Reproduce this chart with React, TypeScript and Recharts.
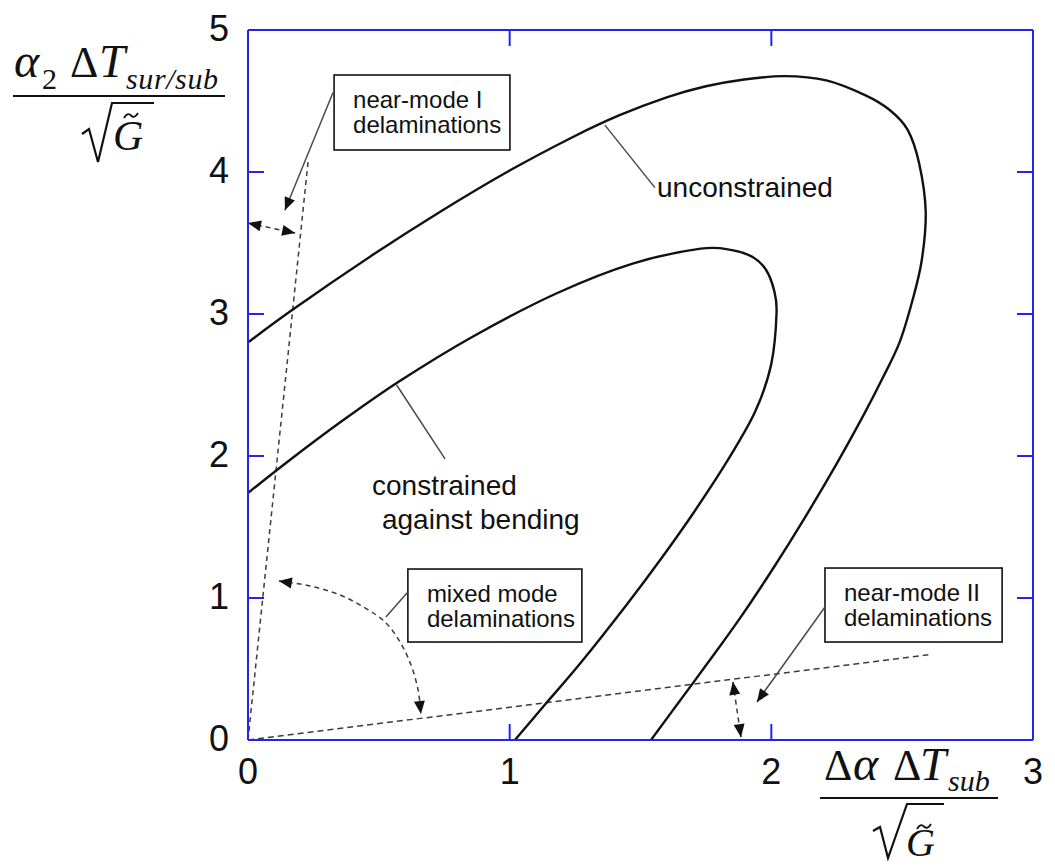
import React from 'react';
import { LineChart, Line, XAxis, YAxis, ReferenceArea, ReferenceLine, ReferenceDot } from 'recharts';

const FRAME = '#2424ee';
const INK = '#111111';
const DASH = '#3c3c3c';
const LEADER = '#4a4a4a';
const SANS = '"Liberation Sans", Arial, sans-serif';
const SERIF = '"Liberation Serif", "Times New Roman", serif';

type Pt = { x: number; y: number };

const xTicks = [0, 1, 2, 3];
const yTicks = [0, 1, 2, 3, 4, 5];

// Delamination boundary, film free to bend
const unconstrained: Pt[] = [
  { x: 0, y: 2.8 }, { x: 0.17, y: 3.03 }, { x: 0.48, y: 3.42 }, { x: 0.73, y: 3.715 },
  { x: 0.99, y: 4.0 }, { x: 1.24, y: 4.245 }, { x: 1.42, y: 4.4 }, { x: 1.6, y: 4.526 },
  { x: 1.75, y: 4.604 }, { x: 1.89, y: 4.65 }, { x: 2.05, y: 4.675 }, { x: 2.21, y: 4.645 },
  { x: 2.36, y: 4.54 }, { x: 2.45, y: 4.44 }, { x: 2.52, y: 4.3 }, { x: 2.565, y: 4.06 },
  { x: 2.59, y: 3.72 }, { x: 2.575, y: 3.38 }, { x: 2.54, y: 3.1 }, { x: 2.49, y: 2.8 },
  { x: 2.423, y: 2.54 }, { x: 2.356, y: 2.3 }, { x: 2.251, y: 1.95 }, { x: 2.123, y: 1.55 },
  { x: 2.011, y: 1.22 }, { x: 1.881, y: 0.86 }, { x: 1.756, y: 0.54 }, { x: 1.628, y: 0.22 },
  { x: 1.54, y: 0 },
];

// Delamination boundary, film constrained against bending
const constrained: Pt[] = [
  { x: 0, y: 1.74 }, { x: 0.16, y: 1.972 }, { x: 0.35, y: 2.234 }, { x: 0.58, y: 2.528 },
  { x: 0.86, y: 2.842 }, { x: 1.18, y: 3.146 }, { x: 1.47, y: 3.355 }, { x: 1.73, y: 3.46 },
  { x: 1.85, y: 3.45 }, { x: 1.93, y: 3.4 }, { x: 1.98, y: 3.31 }, { x: 2.01, y: 3.17 },
  { x: 2.02, y: 3.01 }, { x: 2.0, y: 2.65 }, { x: 1.94, y: 2.32 }, { x: 1.84, y: 1.99 },
  { x: 1.71, y: 1.62 }, { x: 1.58, y: 1.28 }, { x: 1.45, y: 0.96 }, { x: 1.27, y: 0.54 },
  { x: 1.14, y: 0.26 }, { x: 1.02, y: 0 },
];

// Dashed limits of the mode-mixity regions
const modeIBoundary: Pt[] = [{ x: 0, y: 0 }, { x: 0.23, y: 4.08 }];
const modeIIBoundary: Pt[] = [{ x: 0, y: 0 }, { x: 2.6, y: 0.6 }];
const mixedArc: Pt[] = [
  { x: 0.118, y: 1.12 }, { x: 0.237, y: 1.085 }, { x: 0.352, y: 1.021 }, { x: 0.447, y: 0.93 },
  { x: 0.524, y: 0.831 }, { x: 0.581, y: 0.69 }, { x: 0.623, y: 0.528 }, { x: 0.65, y: 0.352 },
  { x: 0.661, y: 0.183 },
];

// Boxed callouts
type Box = { x1: number; x2: number; y1: number; y2: number; lines: string[] };
const boxes: Box[] = [
  { x1: 0.329, x2: 1.001, y1: 4.155, y2: 4.683, lines: ['near-mode I', 'delaminations'] },
  { x1: 0.611, x2: 1.276, y1: 0.69, y2: 1.204, lines: ['mixed mode', 'delaminations'] },
  { x1: 2.205, x2: 2.882, y1: 0.69, y2: 1.211, lines: ['near-mode II', 'delaminations'] },
];

// Arrows and leader lines: from -> to, with the ends that carry heads
type Arrow = { from: Pt; to: Pt; dashed: boolean; start: boolean; end: boolean; line: boolean };
const arrows: Arrow[] = [
  { from: { x: 0.325, y: 4.56 }, to: { x: 0.141, y: 3.73 }, dashed: false, start: false, end: true, line: true },
  { from: { x: 0, y: 3.64 }, to: { x: 0.18, y: 3.57 }, dashed: true, start: true, end: true, line: true },
  { from: { x: 0.611, y: 1.042 }, to: { x: 0.527, y: 0.866 }, dashed: false, start: false, end: false, line: true },
  { from: mixedArc[1], to: mixedArc[0], dashed: false, start: false, end: true, line: false },
  { from: mixedArc[mixedArc.length - 2], to: mixedArc[mixedArc.length - 1], dashed: false, start: false, end: true, line: false },
  { from: { x: 2.205, y: 0.937 }, to: { x: 1.945, y: 0.268 }, dashed: false, start: false, end: true, line: true },
  { from: { x: 1.853, y: 0.41 }, to: { x: 1.884, y: 0.02 }, dashed: true, start: true, end: true, line: true },
  { from: { x: 1.364, y: 4.33 }, to: { x: 1.555, y: 3.89 }, dashed: false, start: false, end: false, line: true },
  { from: { x: 0.568, y: 2.5 }, to: { x: 0.753, y: 1.98 }, dashed: false, start: false, end: false, line: true },
];

// Curve labels (anchor = start of baseline)
type Note = { at: Pt; text: string };
const notes: Note[] = [
  { at: { x: 1.563, y: 3.824 }, text: 'unconstrained' },
  { at: { x: 0.474, y: 1.725 }, text: 'constrained' },
  { at: { x: 0.512, y: 1.486 }, text: 'against bending' },
];

// Catmull-Rom spline through the points, in drawing order (the loops fold back in x)
const catmullRom = (context: any) => {
  let pts: [number, number][] = [];
  return {
    areaStart() {},
    areaEnd() {},
    lineStart() {
      pts = [];
    },
    lineEnd() {
      if (!pts.length) return;
      context.moveTo(pts[0][0], pts[0][1]);
      for (let i = 0; i < pts.length - 1; i++) {
        const p0 = pts[i - 1] || pts[i];
        const p1 = pts[i];
        const p2 = pts[i + 1];
        const p3 = pts[i + 2] || p2;
        context.bezierCurveTo(
          p1[0] + (p2[0] - p0[0]) / 6,
          p1[1] + (p2[1] - p0[1]) / 6,
          p2[0] - (p3[0] - p1[0]) / 6,
          p2[1] - (p3[1] - p1[1]) / 6,
          p2[0],
          p2[1],
        );
      }
    },
    point(x: number, y: number) {
      pts.push([+x, +y]);
    },
  };
};

const head = (tx: number, ty: number, ang: number, len = 13, half = 5.5) => {
  const bx = tx - len * Math.cos(ang);
  const by = ty - len * Math.sin(ang);
  const nx = -Math.sin(ang) * half;
  const ny = Math.cos(ang) * half;
  return <polygon points={`${tx},${ty} ${bx + nx},${by + ny} ${bx - nx},${by - ny}`} fill={INK} />;
};

const arrowShape = (a: Arrow) => (p: any) => {
  const { x1, y1, x2, y2 } = p;
  const ang = Math.atan2(y2 - y1, x2 - x1);
  return (
    <g>
      {a.line && (
        <line
          x1={x1}
          y1={y1}
          x2={x2}
          y2={y2}
          stroke={a.dashed ? DASH : LEADER}
          strokeWidth={1.5}
          strokeDasharray={a.dashed ? '5 4' : undefined}
        />
      )}
      {a.end && head(x2, y2, ang)}
      {a.start && head(x1, y1, ang + Math.PI)}
    </g>
  );
};

const boxShape = (b: Box) => (p: any) => {
  const { x, y, width, height } = p;
  return (
    <g>
      <rect x={x} y={y} width={width} height={height} fill="#fff" stroke={INK} strokeWidth={1.6} />
      {b.lines.map((t, i) => (
        <text key={t} x={x + 19} y={y + 33 + i * 25} fontSize={24} fontFamily={SANS} fill={INK}>
          {t}
        </text>
      ))}
    </g>
  );
};

const noteShape = (n: Note) => (p: any) => (
  <text x={p.cx} y={p.cy} fontSize={28} fontFamily={SANS} fill={INK}>
    {n.text}
  </text>
);

const BottomTick = (p: any) => {
  const v = p.payload.value;
  return (
    <g>
      {v > 0 && v < 3 && <line x1={p.x} y1={p.y} x2={p.x} y2={p.y - 16} stroke={FRAME} strokeWidth={2} />}
      <text x={p.x} y={p.y + 44} textAnchor="middle" fontSize={36} fontFamily={SANS} fill={INK}>
        {v}
      </text>
    </g>
  );
};

const TopTick = (p: any) => {
  const v = p.payload.value;
  return v > 0 && v < 3 ? <line x1={p.x} y1={p.y} x2={p.x} y2={p.y + 16} stroke={FRAME} strokeWidth={2} /> : <g />;
};

const LeftTick = (p: any) => {
  const v = p.payload.value;
  return (
    <g>
      {v > 0 && v < 5 && <line x1={p.x} y1={p.y} x2={p.x + 16} y2={p.y} stroke={FRAME} strokeWidth={2} />}
      <text x={p.x - 19} y={p.y + 11} textAnchor="end" fontSize={36} fontFamily={SANS} fill={INK}>
        {v}
      </text>
    </g>
  );
};

const RightTick = (p: any) => {
  const v = p.payload.value;
  return v > 0 && v < 5 ? <line x1={p.x} y1={p.y} x2={p.x - 16} y2={p.y} stroke={FRAME} strokeWidth={2} /> : <g />;
};

const Tilde = ({ x, y }: { x: number; y: number }) => (
  <path d={`M${x},${y} q3.5,-6 7,-2.5 t7,-2.5`} fill="none" stroke={INK} strokeWidth={1.8} />
);

// alpha_2 dT_sur/sub over sqrt(G~)
const YTitle = () => (
  <g fill={INK} fontFamily={SERIF}>
    <text x={14} y={77} fontSize={48} fontStyle="italic">α</text>
    <text x={42} y={89} fontSize={30}>2</text>
    <text x={70} y={77} fontSize={44}>Δ</text>
    <text x={99} y={77} fontSize={47} fontStyle="italic">T</text>
    <text x={126} y={89} fontSize={30} fontStyle="italic" textLength={92}>sur/sub</text>
    <line x1={13} y1={96} x2={225} y2={96} stroke={INK} strokeWidth={2} />
    <path d="M82,134 L89,129 L98,162 L112,103 L154,103" fill="none" stroke={INK} strokeWidth={2.2} />
    <text x={113} y={150} fontSize={42} fontStyle="italic">G</text>
    <Tilde x={124} y={118} />
  </g>
);

// d(alpha) dT_sub over sqrt(G~)
const XTitle = () => (
  <g fill={INK} fontFamily={SERIF}>
    <text x={824} y={780} fontSize={44}>Δ</text>
    <text x={853} y={780} fontSize={48} fontStyle="italic">α</text>
    <text x={893} y={780} fontSize={44}>Δ</text>
    <text x={920} y={780} fontSize={47} fontStyle="italic">T</text>
    <text x={948} y={791} fontSize={30} fontStyle="italic">sub</text>
    <line x1={820} y1={798} x2={998} y2={798} stroke={INK} strokeWidth={2} />
    <path d="M873,831 L880,827 L888,858 L907,804 L944,804" fill="none" stroke={INK} strokeWidth={2.2} />
    <text x={906} y={856} fontSize={40} fontStyle="italic">G</text>
    <Tilde x={917} y={829} />
  </g>
);

const axisCommon = {
  type: 'number' as const,
  interval: 0 as const,
  allowDataOverflow: true,
  tickSize: 0,
  tickMargin: 0,
  tickLine: false,
  axisLine: { stroke: FRAME, strokeWidth: 2 },
};

export default function App() {
  return (
    <div style={{ position: 'absolute', left: 0, top: 0, width: 1055, height: 867, background: '#fff' }}>
      <LineChart width={1055} height={867} margin={{ top: 29, right: 21, bottom: 126, left: 247 }}>
        <XAxis {...axisCommon} dataKey="x" domain={[0, 3]} ticks={xTicks} height={1} tick={<BottomTick />} label={<XTitle />} />
        <XAxis {...axisCommon} xAxisId="top" orientation="top" dataKey="x" domain={[0, 3]} ticks={xTicks} height={1} tick={<TopTick />} />
        <YAxis {...axisCommon} domain={[0, 5]} ticks={yTicks} width={1} tick={<LeftTick />} label={<YTitle />} />
        <YAxis {...axisCommon} yAxisId="right" orientation="right" domain={[0, 5]} ticks={yTicks} width={1} tick={<RightTick />} />

        <Line data={modeIBoundary} dataKey="y" type="linear" stroke={DASH} strokeWidth={1.5} strokeDasharray="5 4" dot={false} activeDot={false} isAnimationActive={false} />
        <Line data={modeIIBoundary} dataKey="y" type="linear" stroke={DASH} strokeWidth={1.5} strokeDasharray="6 4" dot={false} activeDot={false} isAnimationActive={false} />
        <Line data={mixedArc} dataKey="y" type={catmullRom as any} stroke={DASH} strokeWidth={1.5} strokeDasharray="5 4" dot={false} activeDot={false} isAnimationActive={false} />
        <Line data={unconstrained} dataKey="y" type={catmullRom as any} stroke={INK} strokeWidth={2.4} dot={false} activeDot={false} isAnimationActive={false} />
        <Line data={constrained} dataKey="y" type={catmullRom as any} stroke={INK} strokeWidth={2.4} dot={false} activeDot={false} isAnimationActive={false} />

        {arrows.map((a, i) => (
          <ReferenceLine key={`a${i}`} segment={[a.from, a.to]} ifOverflow="visible" shape={arrowShape(a)} />
        ))}
        {boxes.map((b, i) => (
          <ReferenceArea key={`b${i}`} x1={b.x1} x2={b.x2} y1={b.y1} y2={b.y2} ifOverflow="visible" shape={boxShape(b)} />
        ))}
        {notes.map((n, i) => (
          <ReferenceDot key={`n${i}`} x={n.at.x} y={n.at.y} r={0} ifOverflow="visible" shape={noteShape(n)} />
        ))}
      </LineChart>
    </div>
  );
}
